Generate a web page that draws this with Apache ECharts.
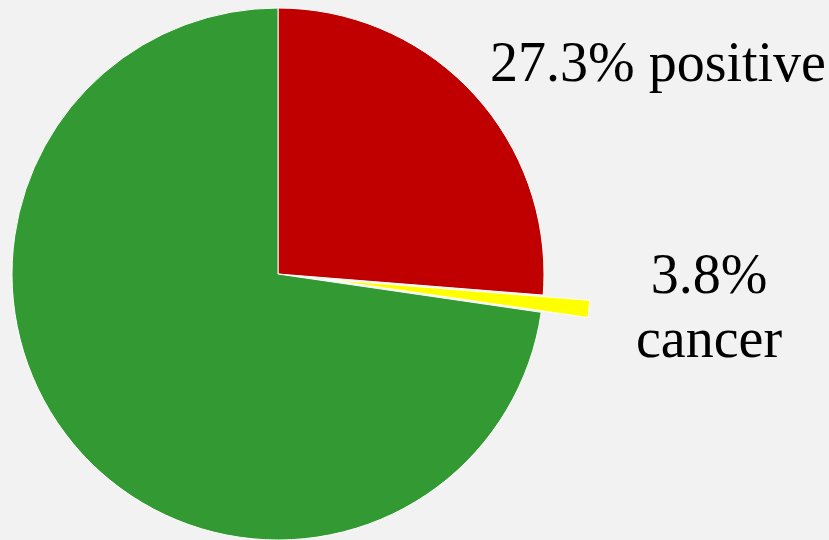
<!DOCTYPE html>
<html>
<head>
<meta charset="utf-8">
<script src="https://cdn.jsdelivr.net/npm/echarts@6/dist/echarts.min.js"></script>
<style>
  html, body { margin: 0; padding: 0; background: #f2f2f2; }
  #chart { width: 829px; height: 540px; }
</style>
</head>
<body>
<div id="chart"></div>
<script>
// Share of screened cases that were positive, and share of positives that were cancer
const positivePct = 27.3;
const cancerOfPositivePct = 3.8;

const sliceNames = ['positive', 'cancer', 'negative'];
const sliceColors = ['#c00000', '#ffff00', '#339933'];
const cancerPct = positivePct * cancerOfPositivePct / 100;
const sliceValues = [positivePct - cancerPct, cancerPct, 100 - positivePct];

const labelTexts = [positivePct.toFixed(1) + '% positive', cancerOfPositivePct.toFixed(1) + '%', 'cancer'];

const chart = echarts.init(document.getElementById('chart'), null, { renderer: 'canvas' });

const font = '"Liberation Serif", serif';

chart.setOption({
  backgroundColor: '#f2f2f2',
  animation: false,
  series: [{
    type: 'pie',
    center: [278, 274],
    radius: [0, 266],
    startAngle: 90,
    clockwise: true,
    selectedMode: 'single',
    selectedOffset: 47,
    label: { show: false },
    labelLine: { show: false },
    emphasis: { disabled: true },
    itemStyle: { borderColor: '#ffffff', borderWidth: 1 },
    data: sliceNames.map((n, i) => ({
      name: n,
      value: sliceValues[i],
      selected: n === 'cancer',
      itemStyle: { color: sliceColors[i] }
    }))
  }],
  graphic: [
    { type: 'text', left: 490, top: 38, style: { text: labelTexts[0], font: '56px ' + font, fill: '#000' } },
    { type: 'text', x: 709, y: 278, style: { text: labelTexts[1], font: '56px ' + font, fill: '#000', align: 'center', verticalAlign: 'middle' } },
    { type: 'text', x: 709, y: 342, style: { text: labelTexts[2], font: '56px ' + font, fill: '#000', align: 'center', verticalAlign: 'middle' } }
  ]
});
</script>
</body>
</html>
